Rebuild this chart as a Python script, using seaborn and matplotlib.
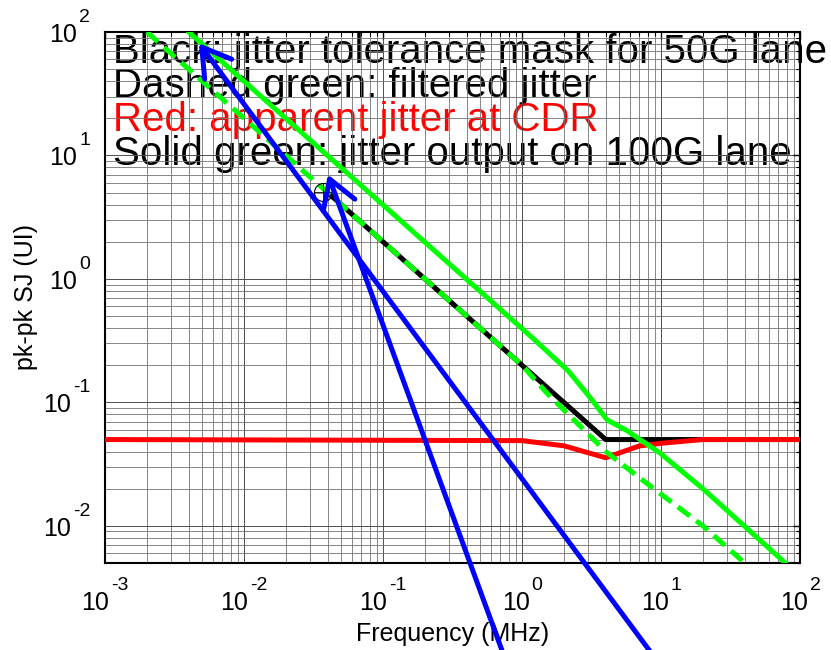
import numpy as np
import pandas as pd
import matplotlib.pyplot as plt
import matplotlib.ticker as mticker
import seaborn as sns

# curves: frequency (MHz) vs pk-pk SJ (UI)
mask_freq = [0.04, 4, 100]
mask_sj = [5.0, 0.05, 0.05]

filtered_freq = [0.002, 1.0, 1.5, 4, 7, 20, 40]
filtered_sj = [100, 0.2, 0.12, 0.04, 0.0245, 0.01, 0.005]

cdr_freq = [0.001, 1, 2, 4, 7, 10, 20, 100]
cdr_sj = [0.05, 0.049, 0.0445, 0.0356, 0.0444, 0.0466, 0.05, 0.05]

out_freq = [0.004, 1.2, 2.15, 3.1, 4.1, 5.7, 9.8, 20, 80]
out_sj = [100, 0.33, 0.18, 0.109, 0.072, 0.059, 0.039, 0.02, 0.0049]

# data cursor circle and the two blue arrows (tip / tail)
cursor_freq, cursor_sj = 0.037, 5.1
arrow_tip_freq = [0.00474, 0.0402]
arrow_tip_sj = [81, 7.0]
arrow_tail_freq = [8.3, 0.72]
arrow_tail_sj = [0.00097, 0.00097]

# decade exponents for the tick labels
x_exps = [-3, -2, -1, 0, 1, 2]
y_exps = [-2, -1, 0, 1, 2]

notes = ["Black: jitter tolerance mask for 50G lane",
         "Dashed green: filtered jitter",
         "Red: apparent jitter at CDR",
         "Solid green: jitter output on 100G lane"]
note_colors = ["black", "black", "red", "black"]

sns.set_style("white")
plt.rcParams['font.family'] = ['Liberation Sans', 'DejaVu Sans']
plt.rcParams['text.color'] = 'black'
plt.rcParams['axes.labelcolor'] = 'black'

fig = plt.figure(figsize=(8.31, 6.5), dpi=100)
ax = fig.add_axes([105 / 831, 87 / 650, 695 / 831, 531 / 650])

mask = pd.DataFrame({'f': mask_freq, 'sj': mask_sj})
filt = pd.DataFrame({'f': filtered_freq, 'sj': filtered_sj})
cdr = pd.DataFrame({'f': cdr_freq, 'sj': cdr_sj})
outp = pd.DataFrame({'f': out_freq, 'sj': out_sj})

lw = 3.6
sns.lineplot(data=mask, x='f', y='sj', ax=ax, color='black', lw=lw, zorder=3, sort=False)
sns.lineplot(data=cdr, x='f', y='sj', ax=ax, color='#ff0000', lw=lw, zorder=4, sort=False)
sns.lineplot(data=filt, x='f', y='sj', ax=ax, color='#00ff00', lw=lw, zorder=5, sort=False)
ax.lines[-1].set_dashes((3, 1.6))
sns.lineplot(data=outp, x='f', y='sj', ax=ax, color='#00ff00', lw=lw, zorder=6, sort=False)

ax.plot([cursor_freq], [cursor_sj], marker='o', ms=13, mfc='none', mec='black', mew=0.8, zorder=7)
ax.plot([cursor_freq], [cursor_sj], marker='+', ms=13, color='black', mew=0.6, zorder=7)

ax.set_xscale('log')
ax.set_yscale('log')
ax.set_xlim(1e-3, 1e2)
ax.set_ylim(5e-3, 1e2)

for a in (ax.xaxis, ax.yaxis):
    a.set_major_locator(mticker.LogLocator(base=10, numticks=20))
    a.set_minor_locator(mticker.LogLocator(base=10, subs=np.arange(2, 10), numticks=20))
    a.set_minor_formatter(mticker.NullFormatter())

ax.grid(True, which='major', color='0.3', lw=0.7)
ax.grid(True, which='minor', color='0.45', lw=0.6)
ax.set_axisbelow(True)

ax.tick_params(which='both', direction='in', top=True, right=True, color='black',
               labelbottom=False, labelleft=False)
ax.tick_params(which='major', length=5, width=1)
ax.tick_params(which='minor', length=3, width=0.8)
for s in ax.spines.values():
    s.set_visible(True)
    s.set_color('black')
    s.set_linewidth(1.5)

# MATLAB-style "10^n" labels: exponent sits fully above the base
px = 0.72  # points per pixel at 100 dpi
for e in x_exps:
    s = str(e)
    wexp = 19 * (0.556 * len(s.lstrip('-')) + 0.333 * (e < 0))
    r = (27.8 - 2 - wexp) / 2
    ax.annotate('10', xy=(10.0 ** e, 0), xycoords=('data', 'axes fraction'),
                xytext=(r * px, -47 * px), textcoords='offset points',
                ha='right', va='baseline', fontsize=18, annotation_clip=False)
    ax.annotate(s, xy=(10.0 ** e, 0), xycoords=('data', 'axes fraction'),
                xytext=((r + 2) * px, -27 * px), textcoords='offset points',
                ha='left', va='baseline', fontsize=14, annotation_clip=False)
for e in y_exps:
    s = str(e)
    wexp = 19 * (0.556 * len(s.lstrip('-')) + 0.333 * (e < 0))
    ax.annotate('10', xy=(0, 10.0 ** e), xycoords=('axes fraction', 'data'),
                xytext=(-(15 + wexp + 2) * px, -10 * px), textcoords='offset points',
                ha='right', va='baseline', fontsize=18, annotation_clip=False)
    ax.annotate(s, xy=(0, 10.0 ** e), xycoords=('axes fraction', 'data'),
                xytext=(-15 * px, 10 * px), textcoords='offset points',
                ha='right', va='baseline', fontsize=14, annotation_clip=False)

ax.set_xlabel('Frequency (MHz)', fontsize=18)
ax.set_ylabel('pk-pk SJ (UI)', fontsize=18)
ax.xaxis.set_label_coords(0.5, -0.111)
ax.yaxis.set_label_coords(-0.097, 0.5)

baselines = [0.942, 0.878, 0.814, 0.750]
for txt, c, yb in zip(notes, note_colors, baselines):
    ax.text(0.0115, yb, txt, transform=ax.transAxes, fontsize=29, color=c,
            va='baseline', ha='left', zorder=0.3, clip_on=False)

for tf, ts, af, asj in zip(arrow_tip_freq, arrow_tip_sj, arrow_tail_freq, arrow_tail_sj):
    ax.annotate('', xy=(tf, ts), xytext=(af, asj), xycoords='data', textcoords='data',
                annotation_clip=False, zorder=10,
                arrowprops=dict(arrowstyle='->,head_length=0.9,head_width=0.55',
                                mutation_scale=22, color='#0000ff', lw=3.6,
                                shrinkA=0, shrinkB=0))

fig.savefig('out.png', dpi=100)
